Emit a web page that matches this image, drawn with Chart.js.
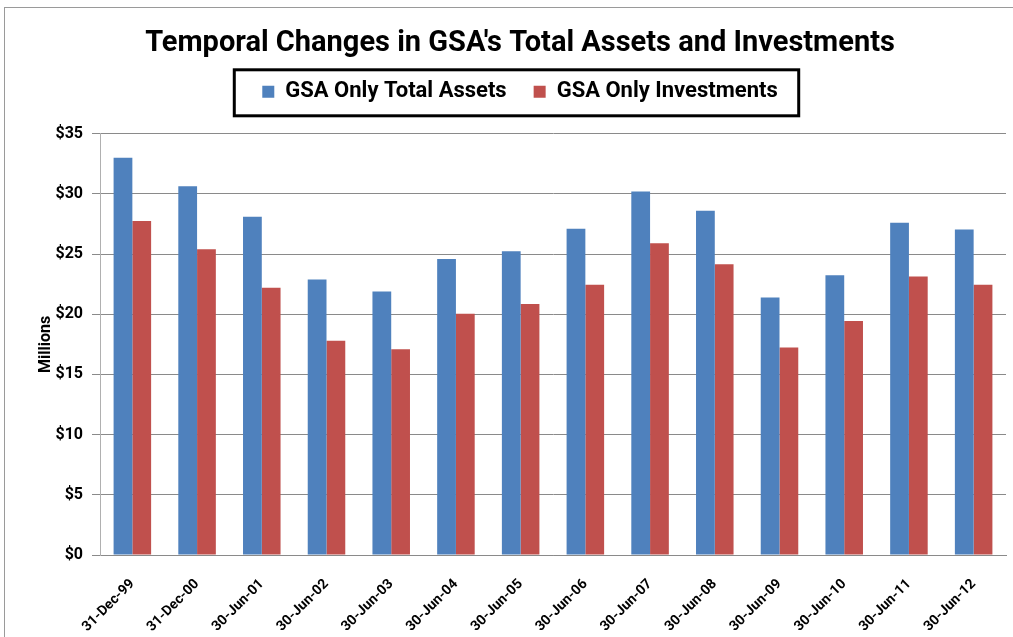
<!DOCTYPE html>
<html>
<head>
<meta charset="utf-8">
<script src="https://cdn.jsdelivr.net/npm/chart.js@4.4.1/dist/chart.umd.min.js"></script>
<style>
  html, body { margin: 0; padding: 0; background: #fff; overflow: hidden; }
  #wrap { position: relative; width: 1013px; height: 637px; }
  #frame { position: absolute; left: 4px; top: 7px; width: 1100px; height: 700px; border: 1px solid #9a9a9a; }
  canvas { position: absolute; left: 0; top: 0; }
</style>
</head>
<body>
<div id="wrap">
  <div id="frame"></div>
  <canvas id="gsaChart" width="1013" height="637"></canvas>
</div>
<script>
// values (millions of dollars)
const dates = ['31-Dec-99', '31-Dec-00', '30-Jun-01', '30-Jun-02', '30-Jun-03', '30-Jun-04', '30-Jun-05',
               '30-Jun-06', '30-Jun-07', '30-Jun-08', '30-Jun-09', '30-Jun-10', '30-Jun-11', '30-Jun-12'];
const totalAssets = [33.0, 30.65, 28.1, 22.9, 21.9, 24.6, 25.25, 27.1, 30.2, 28.6, 21.4, 23.25, 27.6, 27.05];
const investments = [27.75, 25.4, 22.2, 17.8, 17.1, 20.05, 20.85, 22.45, 25.9, 24.15, 17.25, 19.45, 23.15, 22.45];
const yTicks = [0, 5, 10, 15, 20, 25, 30, 35];

Chart.defaults.font.family = "Roboto, 'Noto Sans', sans-serif";
Chart.defaults.color = '#000';

// empty box between legend and plot, so the plot starts where the reference does
const spacerPlugin = {
    id: 'spacer',
    beforeInit(chart) {
        Chart.layouts.addBox(chart, {
            position: 'top', weight: 1, fullSize: true, options: {},
            isHorizontal() { return true; },
            update(maxWidth) { this.width = maxWidth; this.height = 21; },
            draw() {}
        });
    }
};

// black frame round the legend
const legendFrame = {
    id: 'legendFrame',
    afterDraw(chart) {
        const boxes = chart.legend.legendHitBoxes;
        if (!boxes || !boxes.length) return;
        const first = boxes[0], last = boxes[boxes.length - 1];
        const ctx = chart.ctx;
        ctx.save();
        ctx.strokeStyle = '#000';
        ctx.lineWidth = 3;
        const left = first.left - 28, right = last.left + last.width + 21;
        ctx.strokeRect(left, first.top - 11, right - left, first.height + 24);
        ctx.restore();
    }
};

const ctx = document.getElementById('gsaChart').getContext('2d');
new Chart(ctx, {
    type: 'bar',
    data: {
        labels: dates,
        datasets: [{
            label: 'GSA Only Total Assets',
            data: totalAssets,
            backgroundColor: '#4F81BD'
        }, {
            label: 'GSA Only Investments',
            data: investments,
            backgroundColor: '#C0504D'
        }]
    },
    options: {
        responsive: false,
        animation: false,
        layout: { padding: { left: 34, right: 7, top: 0, bottom: 0 } },
        datasets: { bar: { categoryPercentage: 0.58, barPercentage: 1.0 } },
        plugins: {
            title: {
                display: true,
                text: "Temporal Changes in GSA's Total Assets and Investments",
                font: { size: 29, weight: 'bold' },
                color: '#000',
                padding: { top: 26, bottom: -7 }
            },
            legend: {
                position: 'top',
                labels: {
                    boxWidth: 12,
                    boxHeight: 12,
                    padding: 27,
                    font: { size: 22, weight: 'bold' },
                    color: '#000'
                }
            },
            tooltip: { enabled: false }
        },
        scales: {
            x: {
                grid: { display: false, drawTicks: false },
                border: { display: true, color: '#8a8a8a' },
                ticks: {
                    minRotation: 45, maxRotation: 45,
                    padding: 21,
                    font: { size: 14, weight: 'bold' },
                    color: '#000'
                },
                afterFit(scale) { scale.height = 82; }
            },
            y: {
                min: 0, max: 35,
                afterBuildTicks(scale) { scale.ticks = yTicks.map(v => ({ value: v })); },
                grid: { color: '#8a8a8a', tickLength: 8 },
                border: { display: true, color: '#b0b0b0' },
                ticks: {
                    padding: 9,
                    font: { size: 16, weight: 'bold' },
                    color: '#000',
                    callback: (v) => '$' + v
                },
                title: {
                    display: true,
                    text: 'Millions',
                    font: { size: 16, weight: 'bold' },
                    color: '#000',
                    padding: { top: 2, bottom: 0 }
                },
                afterFit(scale) { scale.width = 66; }
            }
        }
    },
    plugins: [spacerPlugin, legendFrame]
});
</script>
</body>
</html>
